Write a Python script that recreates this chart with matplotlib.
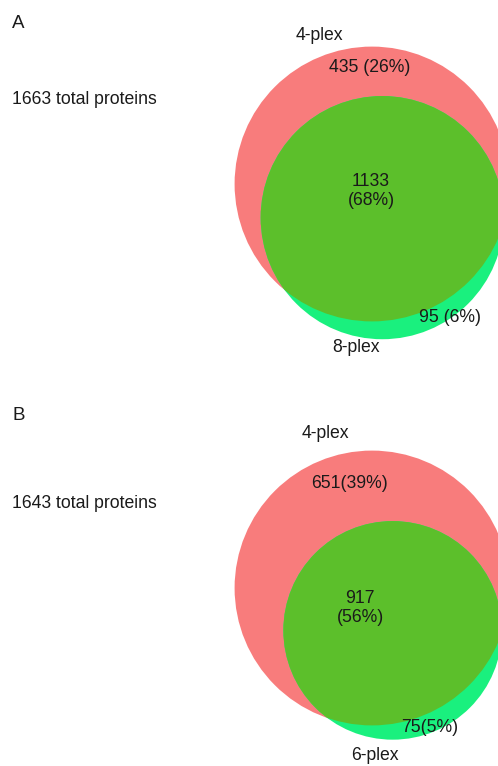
import numpy as np
import matplotlib.pyplot as plt
from matplotlib.patches import Circle

plt.rcParams['font.family'] = ['Liberation Sans', 'DejaVu Sans']

# protein counts per panel: only-first, shared, only-second
panels = ["A", "B"]
set_names = [("4-plex", "8-plex"), ("4-plex", "6-plex")]
only_first = [435, 651]
shared = [1133, 917]
only_second = [95, 75]
totals = [1663, 1643]
label_first = ["435 (26%)", "651(39%)"]
label_shared = ["1133\n(68%)", "917\n(56%)"]
label_second = ["95 (6%)", "75(5%)"]

RED = "#f87c7c"
GREEN_ONLY = "#1af07e"
OVERLAP = "#5cbf2b"


def lens_area(r1, r2, d):
    if d >= r1 + r2:
        return 0.0
    if d <= abs(r1 - r2):
        return np.pi * min(r1, r2) ** 2
    a1 = r1 ** 2 * np.arccos((d ** 2 + r1 ** 2 - r2 ** 2) / (2 * d * r1))
    a2 = r2 ** 2 * np.arccos((d ** 2 + r2 ** 2 - r1 ** 2) / (2 * d * r2))
    k = 0.5 * np.sqrt((-d + r1 + r2) * (d + r1 - r2) * (d - r1 + r2) * (d + r1 + r2))
    return a1 + a2 - k


def center_distance(r1, r2, target):
    # bisection on the centre distance that gives the wanted lens area
    lo, hi = abs(r1 - r2), r1 + r2
    for _ in range(80):
        mid = 0.5 * (lo + hi)
        if lens_area(r1, r2, mid) > target:
            lo = mid
        else:
            hi = mid
    return 0.5 * (lo + hi)


fig = plt.figure(figsize=(4.98, 7.66), dpi=100)
ax = fig.add_axes([0, 0, 1, 1])
ax.set_xlim(0, 498)
ax.set_ylim(766, 0)
ax.set_aspect("equal")
ax.axis("off")

scale = 3.47  # pixels per sqrt(protein)
fs = 12.7
tc = "#1a1a1a"

# layout for each panel
offsets = [0, 403]
red_centers = [(372, 184), (372, 185)]
angles = [np.deg2rad(73), np.deg2rad(64)]
text_pos = [
    dict(letter=(12, 23), total=(12, 100), first_name=(319, 36), first=(370, 67),
         both=(371, 191), second=(450, 318), second_name=(356, 348)),
    dict(letter=(12, 12), total=(12, 100), first_name=(325, 30), first=(350, 81),
         both=(360, 205), second=(430, 324), second_name=(375, 353)),
]

for i in range(2):
    oy = offsets[i]
    n1 = only_first[i] + shared[i]
    n2 = only_second[i] + shared[i]
    r1 = scale * np.sqrt(n1)
    r2 = scale * np.sqrt(n2)
    d = center_distance(r1, r2, np.pi * scale ** 2 * shared[i])
    cx, cy = red_centers[i]
    cy += oy
    gx = cx + d * np.cos(angles[i])
    gy = cy + d * np.sin(angles[i])

    ax.add_patch(Circle((cx, cy), r1, fc=RED, ec="none", zorder=1))
    ax.add_patch(Circle((gx, gy), r2, fc=GREEN_ONLY, ec="none", zorder=2))
    # shared region: green disc clipped to the red one
    ov = Circle((gx, gy), r2, fc=OVERLAP, ec="none", zorder=3)
    clip = Circle((cx, cy), r1, transform=ax.transData)
    ax.add_patch(ov)
    ov.set_clip_path(clip)

    p = text_pos[i]
    ax.text(p["letter"][0], p["letter"][1] + oy, panels[i], fontsize=13.5,
            color=tc, ha="left", va="center")
    ax.text(p["total"][0], p["total"][1] + oy, f"{totals[i]} total proteins",
            fontsize=fs, color=tc, ha="left", va="center")
    ax.text(p["first_name"][0], p["first_name"][1] + oy, set_names[i][0],
            fontsize=fs, color=tc, ha="center", va="center")
    ax.text(p["second_name"][0], p["second_name"][1] + oy, set_names[i][1],
            fontsize=fs, color=tc, ha="center", va="center")
    ax.text(p["first"][0], p["first"][1] + oy, label_first[i],
            fontsize=fs, color=tc, ha="center", va="center", zorder=5)
    ax.text(p["both"][0], p["both"][1] + oy, label_shared[i],
            fontsize=fs, color=tc, ha="center", va="center", zorder=5,
            linespacing=1.1)
    ax.text(p["second"][0], p["second"][1] + oy, label_second[i],
            fontsize=fs, color=tc, ha="center", va="center", zorder=5)

fig.savefig("out.png", dpi=100)
